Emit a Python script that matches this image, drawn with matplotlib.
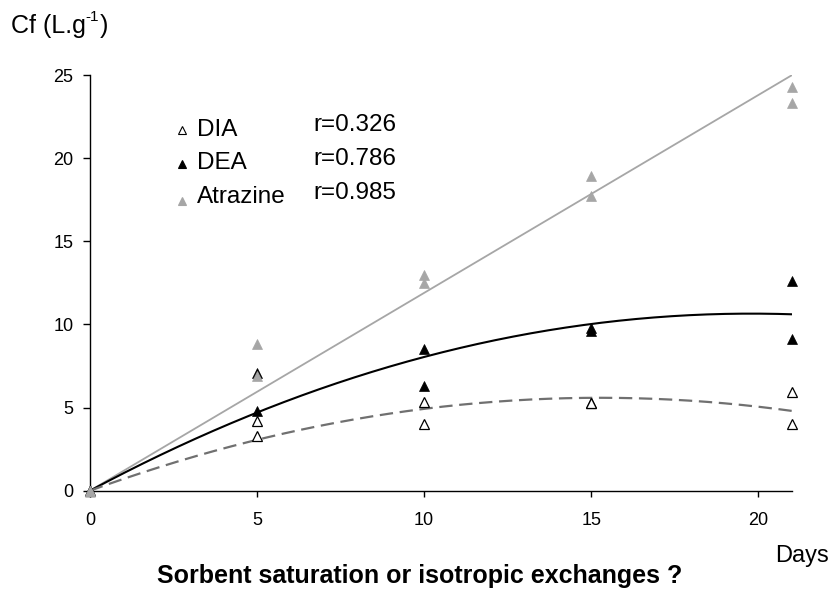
import numpy as np
import matplotlib
matplotlib.use("Agg")
import matplotlib.pyplot as plt

plt.rcParams['font.family'] = ['Liberation Sans', 'DejaVu Sans']

# data (two replicates per day)
days = [0, 0, 5, 5, 10, 10, 15, 15, 21, 21]
dia = [0, 0, 4.2, 3.3, 5.35, 4.0, 5.3, 5.25, 5.95, 4.0]
dea = [0, 0, 7.1, 4.8, 8.5, 6.3, 9.8, 9.6, 12.6, 9.1]
atrazine = [0, 0, 8.8, 6.9, 13.0, 12.5, 18.9, 17.7, 24.3, 23.3]
r_values = ["r=0.326", "r=0.786", "r=0.985"]
x_ticks = [0, 5, 10, 15, 20]
y_ticks = [0, 5, 10, 15, 20, 25]

W, H = 837, 591


def fig_xy(px, py):
    return px / W, 1 - py / H


def fit_origin(x, y, deg):
    # least squares polynomial forced through the origin (Excel trendline)
    x = np.asarray(x, float)
    A = np.column_stack([x ** k for k in range(1, deg + 1)])
    coef = np.linalg.lstsq(A, np.asarray(y, float), rcond=None)[0]
    return lambda t: sum(c * t ** (k + 1) for k, c in enumerate(coef))


fig = plt.figure(figsize=(W / 100, H / 100), dpi=100)
ax = fig.add_axes([90 / W, 1 - 490.7 / H, (791.7 - 90) / W, (490.7 - 75) / H])

t = np.linspace(0, 21, 200)
ax.plot(t, fit_origin(days, atrazine, 1)(t), color='#a6a6a6', lw=1.3, zorder=2)
ax.plot(t, fit_origin(days, dea, 2)(t), color='black', lw=1.5, zorder=2)
ax.plot(t, fit_origin(days, dia, 2)(t), color='#707070', lw=1.6,
        dashes=(6, 3), zorder=2)

mk = dict(marker='^', ms=7, ls='none', zorder=3, clip_on=False)
ax.plot(days, dia, mfc='white', mec='black', mew=0.9, **mk)
ax.plot(days, dea, mfc='black', mec='black', mew=0.5, **mk)
ax.plot(days, atrazine, mfc='#a6a6a6', mec='#a6a6a6', mew=0.5, **mk)

ax.set_xlim(0, 21)
ax.set_ylim(0, 25)
ax.set_xticks(x_ticks)
ax.set_yticks(y_ticks)
ax.spines['top'].set_visible(False)
ax.spines['right'].set_visible(False)
for s in ('left', 'bottom'):
    ax.spines[s].set_linewidth(1.0)
ax.tick_params(axis='y', direction='out', length=5, width=1, pad=7, labelsize=13)
ax.tick_params(axis='x', direction='out', length=4, width=1, pad=11, labelsize=13)

# legend drawn by hand, Excel style
names = ["DIA", "DEA", "Atrazine"]
faces = ['white', 'black', '#a6a6a6']
edges = ['black', 'black', '#a6a6a6']
marker_y = [130, 164, 201]
text_base = [136, 169.3, 203.3]
r_base = [130.7, 165, 199.3]
for i in range(3):
    mx, my = fig_xy(182, marker_y[i])
    ax.plot([mx], [my], transform=fig.transFigure, marker='^', ms=6,
            mfc=faces[i], mec=edges[i], mew=0.8, clip_on=False)
    fig.text(*fig_xy(197, text_base[i]), names[i], fontsize=17.5, va='baseline')
    fig.text(*fig_xy(313, r_base[i]), r_values[i], fontsize=17.5, va='baseline')

# y unit label with a small plain "-1" superscript
renderer = fig.canvas.get_renderer()
t1 = fig.text(*fig_xy(11, 33), 'Cf (L.g', fontsize=18, va='baseline')
x1 = t1.get_window_extent(renderer).x1
t2 = fig.text(x1 / W, 1 - 21 / H, '-1', fontsize=11, va='baseline')
x2 = t2.get_window_extent(renderer).x1
fig.text(x2 / W + 0.001, 1 - 33 / H, ')', fontsize=18, va='baseline')

fig.text(*fig_xy(801.7, 561.7), 'Days', fontsize=17, ha='center', va='baseline')
fig.text(*fig_xy(420, 583), 'Sorbent saturation or isotropic exchanges ?',
         fontsize=18, fontweight='bold', ha='center', va='baseline')

fig.savefig('out.png', dpi=100)
